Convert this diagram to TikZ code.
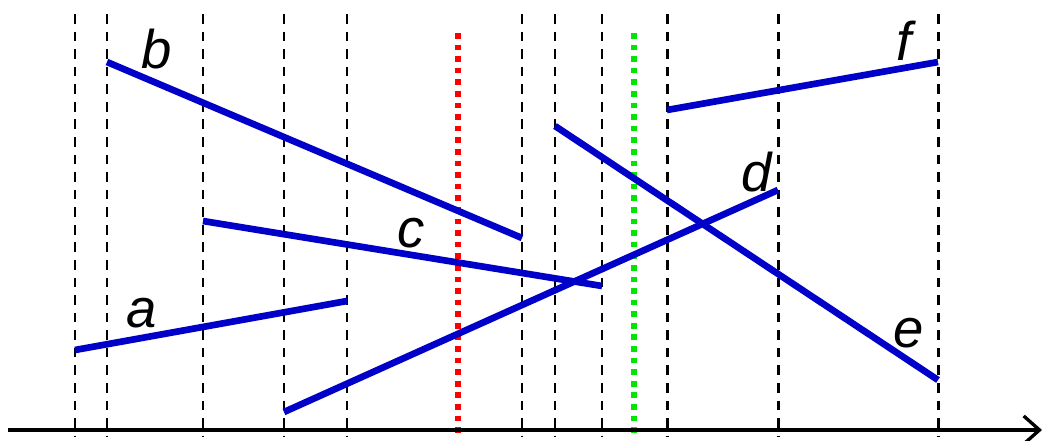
\documentclass[tikz,border=0pt]{standalone}
\usepackage{fontspec}
\setmainfont{Liberation Sans}
\usetikzlibrary{arrows.meta, positioning}
\definecolor{segblue}{RGB}{0,0,200}
\definecolor{sweepred}{RGB}{255,0,0}
\definecolor{sweepgreen}{RGB}{0,230,0}

\begin{document}
\begin{tikzpicture}[
  x=0.02cm, y=-0.02cm,
  segment/.style={draw=segblue, line width=3.8pt},
  event_line/.style={draw=black, line width=1.7pt, dash pattern=on 5.5pt off 4.5pt},
  sweep_line/.style={line width=3.2pt, dash pattern=on 3.2pt off 3.4pt},
  seg_label/.style={font=\fontsize{31}{31}\selectfont\itshape, inner sep=0pt}
]
\useasboundingbox (0,0) rectangle (1045,440);
% event points
\foreach \x in {75,107,203,284,347,522,555,602,667,778,938}{
  \draw[event_line] (\x,14) -- (\x,436);
}
\draw[sweep_line, sweepred] (458,33) -- (458,436);
\draw[sweep_line, sweepgreen] (634,33) -- (634,436);
% axis
\coordinate (ax0) at (8,430);
\coordinate (ax1) at (1042,430);
\draw[line width=1.9pt, -{Straight Barb[length=9pt, width=16pt]}] (ax0) -- (ax1);
% segment end points
\coordinate (a1) at (75,350);  \coordinate (a2) at (347,301);
\coordinate (b1) at (107,62);  \coordinate (b2) at (522,238);
\coordinate (c1) at (203,221); \coordinate (c2) at (602,286);
\coordinate (d1) at (284,412); \coordinate (d2) at (778,190);
\coordinate (e1) at (555,126); \coordinate (e2) at (938,380);
\coordinate (f1) at (667,110); \coordinate (f2) at (938,62);
\foreach \s in {a,b,c,d,e,f}{ \draw[segment] (\s1) -- (\s2); }
% labels
\node[seg_label] (la) at (142,313) {a};
\node[seg_label] (lb) at (157,49) {b};
\node[seg_label] (lc) at (411,233) {c};
\node[seg_label] (ld) at (757,172) {d};
\node[seg_label] (le) at (909,333) {e};
\node[seg_label] (lf) at (904,41) {f};
\end{tikzpicture}
\end{document}
